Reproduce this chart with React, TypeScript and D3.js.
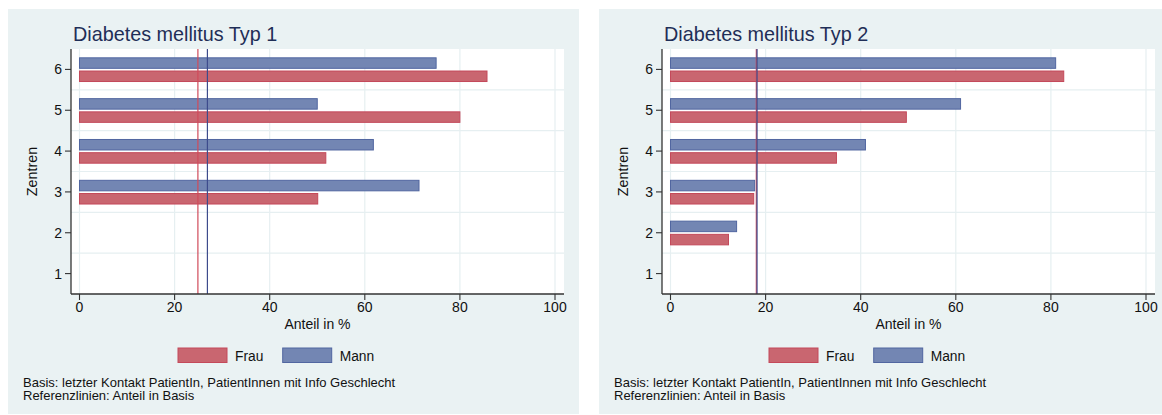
import React from "react";
import * as d3 from "d3";

const centers = [1, 2, 3, 4, 5, 6];
const xTicks = [0, 20, 40, 60, 80, 100];
const seriesNames = ["Frau", "Mann"];

const titleTyp1 = "Diabetes mellitus Typ 1";
const frauTyp1: (number | null)[] = [null, null, 50.1, 51.8, 80.0, 85.7];
const mannTyp1: (number | null)[] = [null, null, 71.4, 61.8, 50.0, 75.0];
const refTyp1 = { frau: 24.9, mann: 26.9 };

const titleTyp2 = "Diabetes mellitus Typ 2";
const frauTyp2: (number | null)[] = [null, 12.2, 17.5, 34.9, 49.6, 82.7];
const mannTyp2: (number | null)[] = [null, 13.9, 17.7, 41.0, 61.0, 81.0];
const refTyp2 = { frau: 18.05, mann: 18.2 };

const footnotes = [
  "Basis: letzter Kontakt PatientIn, PatientInnen mit Info Geschlecht",
  "Referenzlinien: Anteil in Basis",
];

const FONT = "'Liberation Sans', Arial, Helvetica, sans-serif";
const BG = "#EAF2F3";
const GRID = "#E6EFF1";
const RED_FILL = "#C96670";
const RED_LINE = "#C4495A";
const BLUE_FILL = "#7386B3";
const BLUE_LINE = "#5166A0";
const REF_RED = "#D04A5A";
const REF_BLUE = "#3D4B8C";
const AXIS = "#333333";
const TITLE = "#1F2E57";

type PanelProps = {
  left: number;
  width: number;
  title: string;
  frau: (number | null)[];
  mann: (number | null)[];
  ref: { frau: number; mann: number };
};

function Panel({ left, width, title, frau, mann, ref }: PanelProps) {
  const top = 9;
  const bottom = 414;
  const plotL = left + 63;
  const plotR = left + 556;
  const plotT = 49;
  const plotB = 294;
  const x = d3.scaleLinear().domain([0, 100]).range([plotL + 8.5, plotR - 9]);
  const y = d3.scaleLinear().domain([0.5, 6.5]).range([plotB, plotT]);
  const barH = 10.5;
  const hGrid = d3.range(1.5, 6, 1);

  return (
    <g>
      <rect x={left} y={top} width={width} height={bottom - top} fill={BG} />
      <rect x={plotL} y={plotT} width={plotR - plotL} height={plotB - plotT} fill="#fff" />
      {xTicks.map((t) => (
        <line key={"vg" + t} x1={x(t)} x2={x(t)} y1={plotT} y2={plotB} stroke={GRID} strokeWidth={1.2} />
      ))}
      {hGrid.map((t) => (
        <line key={"hg" + t} x1={plotL} x2={plotR} y1={y(t)} y2={y(t)} stroke={GRID} strokeWidth={1.2} />
      ))}
      {centers.map((c, i) => {
        const m = mann[i];
        const f = frau[i];
        const cy = y(c);
        return (
          <g key={"b" + c}>
            {m != null && (
              <rect x={x(0)} y={cy - 11.6} width={x(m) - x(0)} height={barH} fill={BLUE_FILL} stroke={BLUE_LINE} strokeWidth={1} />
            )}
            {f != null && (
              <rect x={x(0)} y={cy + 1.6} width={x(f) - x(0)} height={barH} fill={RED_FILL} stroke={RED_LINE} strokeWidth={1} />
            )}
          </g>
        );
      })}
      <line x1={x(ref.frau)} x2={x(ref.frau)} y1={plotT} y2={plotB} stroke={REF_RED} strokeWidth={1.2} />
      <line x1={x(ref.mann)} x2={x(ref.mann)} y1={plotT} y2={plotB} stroke={REF_BLUE} strokeWidth={1.2} />
      <line x1={plotL} x2={plotL} y1={plotT} y2={plotB} stroke={AXIS} strokeWidth={1.3} />
      <line x1={plotL} x2={plotR} y1={plotB} y2={plotB} stroke={AXIS} strokeWidth={1.3} />
      {centers.map((c) => (
        <g key={"yt" + c}>
          <line x1={plotL - 6} x2={plotL} y1={y(c)} y2={y(c)} stroke={AXIS} strokeWidth={1.1} />
          <text x={plotL - 9} y={y(c) + 5} textAnchor="end" fontSize={14} fontFamily={FONT} fill="#111">
            {c}
          </text>
        </g>
      ))}
      {xTicks.map((t) => (
        <g key={"xt" + t}>
          <line x1={x(t)} x2={x(t)} y1={plotB} y2={plotB + 6} stroke={AXIS} strokeWidth={1.1} />
          <text x={x(t)} y={311.5} textAnchor="middle" fontSize={14} fontFamily={FONT} fill="#111">
            {t}
          </text>
        </g>
      ))}
      <text x={(plotL + plotR) / 2} y={329} textAnchor="middle" fontSize={14} fontFamily={FONT} fill="#111">
        Anteil in %
      </text>
      <text
        transform={`translate(${left + 28.7},${(plotT + plotB) / 2}) rotate(-90)`}
        textAnchor="middle"
        fontSize={14.3}
        fontFamily={FONT}
        fill="#111"
      >
        Zentren
      </text>
      <text x={left + 65} y={41} fontSize={19.8} fontFamily={FONT} fill={TITLE}>
        {title}
      </text>
      {seriesNames.map((s, i) => {
        const sx = left + 170 + i * 104.7;
        return (
          <g key={"lg" + s}>
            <rect x={sx} y={348} width={49} height={14.5} fill={i === 0 ? RED_FILL : BLUE_FILL} stroke={i === 0 ? RED_LINE : BLUE_LINE} strokeWidth={1} />
            <text x={sx + 57} y={360.5} fontSize={13.8} fontFamily={FONT} fill="#111">
              {s}
            </text>
          </g>
        );
      })}
      {footnotes.map((fn, i) => (
        <text key={"fn" + i} x={left + 15} y={386.5 + i * 13.5} fontSize={13} fontFamily={FONT} fill="#111">
          {fn}
        </text>
      ))}
    </g>
  );
}

export default function App() {
  return (
    <svg
      width={1162}
      height={415}
      style={{ position: "absolute", left: 0, top: 0, background: "#fff" }}
    >
      <Panel left={8} width={571} title={titleTyp1} frau={frauTyp1} mann={mannTyp1} ref={refTyp1} />
      <Panel left={599} width={563} title={titleTyp2} frau={frauTyp2} mann={mannTyp2} ref={refTyp2} />
    </svg>
  );
}
